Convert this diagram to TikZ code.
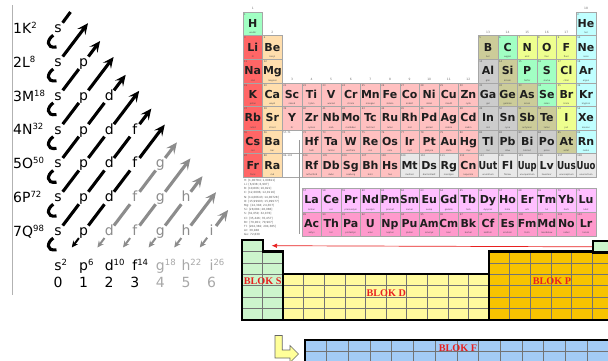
\documentclass[tikz,border=0pt]{standalone}
\usepackage{fontspec}
\setmainfont{DejaVu Sans}
\newfontfamily\serf{Liberation Serif}
\usetikzlibrary{arrows.meta}
\definecolor{cAlk}{HTML}{FF6666}
\definecolor{cAle}{HTML}{FFDEAD}
\definecolor{cTrm}{HTML}{FFC0C0}
\definecolor{cPtm}{HTML}{CCCCCC}
\definecolor{cMtd}{HTML}{CCCC99}
\definecolor{cNm}{HTML}{A1FFC3}
\definecolor{cHal}{HTML}{EEFF8F}
\definecolor{cNob}{HTML}{C0FFFF}
\definecolor{cUnk}{HTML}{E8E8E8}
\definecolor{cLan}{HTML}{FFBFFF}
\definecolor{cAct}{HTML}{FF99CC}
\definecolor{bS}{HTML}{CCF5CC}
\definecolor{bD}{HTML}{FFFA9E}
\definecolor{bP}{HTML}{F7C300}
\definecolor{bF}{HTML}{A3CBF5}
\definecolor{orbgray}{HTML}{8C8C8C}
\definecolor{lblgray}{HTML}{A8A8A8}
\definecolor{blokred}{HTML}{E82020}
\definecolor{yelarrow}{HTML}{FFFF99}
\newcommand\supx[1]{\raisebox{5pt}{\fontsize{8.5}{8.5}\selectfont #1}}
\newcommand\fitsym[1]{\setbox0=\hbox{#1}\ifdim\wd0>18.8pt\pgfmathsetmacro\rat{18.8/\the\wd0}\scalebox{\rat}[1]{\box0}\else\box0\fi}
\tikzset{
 cell/.style={draw=black!35, line width=0.3pt},
 elsym/.style={font=\fontsize{11}{11}\selectfont\bfseries, inner sep=0pt, anchor=base, text=black!88},
 elnum/.style={font=\fontsize{2.4}{2.4}\selectfont, inner sep=0pt, anchor=base west, text=black!70},
 elname/.style={font=\fontsize{2.2}{2.2}\selectfont, inner sep=0pt, anchor=base, text=black!70},
 grp/.style={font=\fontsize{3}{3}\selectfont, inner sep=0pt, text=black!55},
 orb/.style={font=\fontsize{14}{14}\selectfont, text height=7.5pt, text depth=0pt, inner sep=2.3pt},
 shl/.style={font=\fontsize{14}{14}\selectfont, inner sep=0pt, anchor=base west},
 diag/.style={line width=3.1pt},
 fletch/.tip={Stealth[length=11pt,width=10pt,inset=4.5pt]},
 btip/.tip={Stealth[length=6.5pt,width=6pt]},
 blocklbl/.style={font=\serf\bfseries\fontsize{10.2}{10.2}\selectfont, text=blokred, inner sep=0pt},
 gridl/.style={draw=black!55, line width=0.7pt},
 outl/.style={draw=black, line width=2.2pt, line join=miter},
}
\begin{document}
\begin{tikzpicture}[x=1pt,y=-1pt]
\useasboundingbox (0,0) rectangle (608,360);
\fill[white] (0,0) rectangle (608,360);
\clip (0,0) rectangle (608,360);

% ================= periodic table =================
\foreach \ec/\er/\es/\ez/\en/\ek in {
1/1/H/1/wodór/cNm, 18/1/He/2/hel/cNob,
1/2/Li/3/lit/cAlk, 2/2/Be/4/beryl/cAle, 13/2/B/5/bor/cMtd, 14/2/C/6/węgiel/cNm, 15/2/N/7/azot/cHal, 16/2/O/8/tlen/cHal, 17/2/F/9/fluor/cHal, 18/2/Ne/10/neon/cNob,
1/3/Na/11/sód/cAlk, 2/3/Mg/12/magnez/cAle, 13/3/Al/13/glin/cPtm, 14/3/Si/14/krzem/cMtd, 15/3/P/15/fosfor/cNm, 16/3/S/16/siarka/cNm, 17/3/Cl/17/chlor/cHal, 18/3/Ar/18/argon/cNob,
1/4/K/19/potas/cAlk, 2/4/Ca/20/wapń/cAle, 3/4/Sc/21/skand/cTrm, 4/4/Ti/22/tytan/cTrm, 5/4/V/23/wanad/cTrm, 6/4/Cr/24/chrom/cTrm, 7/4/Mn/25/mangan/cTrm, 8/4/Fe/26/żelazo/cTrm, 9/4/Co/27/kobalt/cTrm, 10/4/Ni/28/nikiel/cTrm, 11/4/Cu/29/miedź/cTrm, 12/4/Zn/30/cynk/cTrm, 13/4/Ga/31/gal/cPtm, 14/4/Ge/32/german/cMtd, 15/4/As/33/arsen/cMtd, 16/4/Se/34/selen/cNm, 17/4/Br/35/brom/cHal, 18/4/Kr/36/krypton/cNob,
1/5/Rb/37/rubid/cAlk, 2/5/Sr/38/stront/cAle, 3/5/Y/39/itr/cTrm, 4/5/Zr/40/cyrkon/cTrm, 5/5/Nb/41/niob/cTrm, 6/5/Mo/42/molibden/cTrm, 7/5/Tc/43/technet/cTrm, 8/5/Ru/44/ruten/cTrm, 9/5/Rh/45/rod/cTrm, 10/5/Pd/46/pallad/cTrm, 11/5/Ag/47/srebro/cTrm, 12/5/Cd/48/kadm/cTrm, 13/5/In/49/ind/cPtm, 14/5/Sn/50/cyna/cPtm, 15/5/Sb/51/antymon/cMtd, 16/5/Te/52/tellur/cMtd, 17/5/I/53/jod/cHal, 18/5/Xe/54/ksenon/cNob,
1/6/Cs/55/cez/cAlk, 2/6/Ba/56/bar/cAle, 4/6/Hf/72/hafn/cTrm, 5/6/Ta/73/tantal/cTrm, 6/6/W/74/wolfram/cTrm, 7/6/Re/75/ren/cTrm, 8/6/Os/76/osm/cTrm, 9/6/Ir/77/iryd/cTrm, 10/6/Pt/78/platyna/cTrm, 11/6/Au/79/złoto/cTrm, 12/6/Hg/80/rtęć/cTrm, 13/6/Tl/81/tal/cPtm, 14/6/Pb/82/ołów/cPtm, 15/6/Bi/83/bizmut/cPtm, 16/6/Po/84/polon/cPtm, 17/6/At/85/astat/cMtd, 18/6/Rn/86/radon/cNob,
1/7/Fr/87/frans/cAlk, 2/7/Ra/88/rad/cAle, 4/7/Rf/104/rutherford/cTrm, 5/7/Db/105/dubn/cTrm, 6/7/Sg/106/seaborg/cTrm, 7/7/Bh/107/bohr/cTrm, 8/7/Hs/108/has/cTrm, 9/7/Mt/109/meitner/cUnk, 10/7/Ds/110/darmsztadt/cUnk, 11/7/Rg/111/roentgen/cUnk, 12/7/Cn/112/kopernik/cTrm, 13/7/Uut/113/ununtrium/cUnk, 14/7/Fl/114/flerow/cUnk, 15/7/Uup/115/ununpentium/cUnk, 16/7/Lv/116/liwermor/cUnk, 17/7/Uus/117/ununseptium/cUnk, 18/7/Uuo/118/ununoctium/cUnk,
4/8/La/57/lantan/cLan, 5/8/Ce/58/cer/cLan, 6/8/Pr/59/prazeodym/cLan, 7/8/Nd/60/neodym/cLan, 8/8/Pm/61/promet/cLan, 9/8/Sm/62/samar/cLan, 10/8/Eu/63/europ/cLan, 11/8/Gd/64/gadolin/cLan, 12/8/Tb/65/terb/cLan, 13/8/Dy/66/dysproz/cLan, 14/8/Ho/67/holm/cLan, 15/8/Er/68/erb/cLan, 16/8/Tm/69/tul/cLan, 17/8/Yb/70/iterb/cLan, 18/8/Lu/71/lutet/cLan,
4/9/Ac/89/aktyn/cAct, 5/9/Th/90/tor/cAct, 6/9/Pa/91/protaktyn/cAct, 7/9/U/92/uran/cAct, 8/9/Np/93/neptun/cAct, 9/9/Pu/94/pluton/cAct, 10/9/Am/95/ameryk/cAct, 11/9/Cm/96/kiur/cAct, 12/9/Bk/97/berkel/cAct, 13/9/Cf/98/kaliforn/cAct, 14/9/Es/99/einstein/cAct, 15/9/Fm/100/ferm/cAct, 16/9/Md/101/mendelew/cAct, 17/9/No/102/nobel/cAct, 18/9/Lr/103/lorens/cAct}{
  \pgfmathsetmacro\tx{243+19.6*(\ec-1)}
  \pgfmathsetmacro\ty{\er<8 ? 12+23.6*(\er-1) : 188.5+23.6*(\er-8)}
  \path[cell, fill=\ek] (\tx,\ty) rectangle ++(19.6,23.6);
  \node[elsym] (e\ez) at ({\tx+9.8},{\ty+15.4}) {\fitsym{\es}};
  \node[elnum] (z\ez) at ({\tx+1},{\ty+3.2}) {\ez};
  \node[elname] (n\ez) at ({\tx+9.8},{\ty+21.8}) {\en};
}
% placeholders for La/Ac series
\path[cell, fill=white] (282.2,130) rectangle ++(19.6,23.6);
\path[cell, fill=white] (282.2,153.6) rectangle ++(19.6,23.6);
\node[elnum] (ph6) at (283.2,133.2) {57–71};
\node[elnum] (ph7) at (283.2,156.8) {89–103};
\coordinate (lk1) at (299.5,140);
\coordinate (lk2) at (299.5,234);
\draw[black!40, line width=0.4pt] (lk1) -- (lk2);
% group numbers
\foreach \g/\gr in {1/1,2/2,3/4,4/4,5/4,6/4,7/4,8/4,9/4,10/4,11/4,12/4,13/2,14/2,15/2,16/2,17/2,18/1}{
  \node[grp] (g\g) at ({243+19.6*(\g-1)+9.8},{12+23.6*(\gr-1)-3.2}) {\g};
}
% legend of weight intervals
\node[anchor=north west, align=left, inner sep=0pt, text=black!65,
      font=\fontsize{2.8}{4.2}\selectfont] (legend) at (244,179) {
H: [1,00784; 1,00811]\\ Li: [6,938; 6,997]\\ B: [10,806; 10,821]\\
C: [12,0096; 12,0116]\\ N: [14,00643; 14,00728]\\ O: [15,99903; 15,99977]\\
Mg: [24,304; 24,307]\\ Si: [28,084; 28,086]\\ S: [32,059; 32,076]\\
Cl: [35,446; 35,457]\\ Br: [79,901; 79,907]\\ Tl: [204,382; 204,385]\\
Ar: 39,948\\ Ge: 72,630};

% ================= block diagram =================
% s block
\path[fill=bS] (242,240) -- (262.6,240) -- (262.6,251.43) -- (283.2,251.43) -- (283.2,320) -- (242,320) -- cycle;
\foreach \j in {1,...,6}{ \draw[gridl] (242,{240+11.43*\j}) -- (283.2,{240+11.43*\j}); }
\draw[gridl] (262.6,251.43) -- (262.6,320);
\draw[outl] (242,240) -- (262.6,240) -- (262.6,251.43) -- (283.2,251.43) -- (283.2,320) -- (242,320) -- cycle;
% d block
\path[fill=bD] (283.2,274.29) rectangle (489.2,320);
\foreach \i in {1,...,9}{ \draw[gridl] ({283.2+20.6*\i},274.29) -- ({283.2+20.6*\i},320); }
\foreach \j in {1,2,3}{ \draw[gridl] (283.2,{274.29+11.43*\j}) -- (489.2,{274.29+11.43*\j}); }
\draw[outl] (283.2,274.29) rectangle (489.2,320);
% p block
\path[fill=bP] (489.2,251.43) rectangle (612.8,320);
\foreach \i in {1,...,5}{ \draw[gridl] ({489.2+20.6*\i},251.43) -- ({489.2+20.6*\i},320); }
\foreach \j in {1,...,5}{ \draw[gridl] (489.2,{251.43+11.43*\j}) -- (612.8,{251.43+11.43*\j}); }
\draw[outl] (489.2,251.43) rectangle (612.8,320);
% He cell
\node[outl, fill=bS, minimum width=20.6pt, minimum height=11.43pt, inner sep=0pt, anchor=north west] (bHe) at (592.2,240) {};
\coordinate (raEnd) at (271.5,245.7);
\draw[blokred, line width=0.7pt, -{Latex[length=5.5pt,width=4.5pt]}] (bHe.west) -- (raEnd);
% f block
\path[fill=bF] (305,340) rectangle (640,380);
\foreach \i in {1,...,14}{ \draw[gridl] ({305+21.7*\i},340) -- ({305+21.7*\i},380); }
\draw[gridl] (305,351.43) -- (640,351.43);
\draw[outl] (640,340) -- (305,340) -- (305,380);
% labels
\node[blocklbl] (lblS) at (262.6,281) {BLOK S};
\node[blocklbl] (lblD) at (386.2,293) {BLOK D};
\node[blocklbl] (lblP) at (552,281) {BLOK P};
\node[blocklbl] (lblF) at (458,348) {BLOK F};
% yellow L arrow
\draw[fill=yelarrow, draw=black!60, line width=0.6pt, line join=miter]
  (275,335.5) -- (282.2,335.5) -- (282.2,350) -- (290,350) -- (290,345.5)
  -- (298.5,354) -- (290,362.5) -- (290,358) -- (275,358) -- cycle;

% ================= Madelung diagram =================
\draw[black!30, line width=0.8pt] (12,5) -- (12,295);
\foreach \n/\lab/\sp in {1/K/2,2/L/8,3/M/18,4/N/32,5/O/50,6/P/72,7/Q/98}{
  \node[shl] (sh\n) at (13,{29+33.8*(\n-1)+4.5}) {\n\lab\supx{\sp}};
}
\foreach \n in {1,...,7}{
  \foreach \q/\ch in {0/s,1/p,2/d,3/f,4/g,5/h,6/i}{
    \ifnum\q<\n
      \pgfmathtruncatemacro\kk{\n+\q}
      \ifnum\kk<9 \def\col{black}\else\def\col{orbgray}\fi
      \node[orb, text=\col] (L\n\q) at ({58+25.6*\q},{29+33.8*(\n-1)}) {\ch};
    \fi
  }
}
% segments between letters
\foreach \n in {1,...,6}{
  \foreach \q in {1,...,5}{
    \ifnum\q<\n
      \pgfmathtruncatemacro\nn{\n+1}
      \pgfmathtruncatemacro\qq{\q-1}
      \pgfmathtruncatemacro\kk{\n+\q}
      \ifnum\kk<9 \def\col{black}\else\def\col{orbgray}\fi
      \draw[diag, \col] (L\n\q) -- (L\nn\qq);
    \fi
  }
}
% tops
\coordinate (T1) at (70.5,12);
\draw[diag] (T1) -- (L10);
\foreach \kk in {2,...,13}{
  \ifodd\kk
    \pgfmathtruncatemacro\na{(\kk+1)/2}
    \pgfmathtruncatemacro\qa{\na-1}
    \def\ox{16.5}\def\oy{-21.8}
  \else
    \pgfmathtruncatemacro\na{\kk/2+1}
    \pgfmathtruncatemacro\qa{\kk/2-1}
    \def\ox{30}\def\oy{-39.6}
  \fi
  \ifnum\kk<9 \def\col{black}\else\def\col{orbgray}\fi
  \coordinate (T\kk) at ({58+25.6*\qa+\ox},{29+33.8*(\na-1)+\oy});
  \draw[diag, \col, {fletch}-] (T\kk) -- (L\na\qa);
}
% hooks
\foreach \kk in {1,...,7}{
  \pgfmathsetmacro\yy{29+33.8*(\kk-1)}
  \draw[diag] (L\kk0.233) .. controls (47,{\yy+10.5}) and (45.5,{\yy+19.5}) .. (56.5,{\yy+18});
}
% bottom arrow heads
\foreach \q in {1,...,6}{
  \ifnum\q<2 \def\col{black}\else\def\col{orbgray}\fi
  \coordinate (B\q) at ({58+25.6*\q-11.8},247.5);
  \draw[line width=2pt, \col, -{btip}] (L7\q) -- (B\q);
}
% bottom labels
\foreach \q/\ch/\sp/\col in {0/s/2/black,1/p/6/black,2/d/10/black,3/f/14/black,4/g/18/lblgray,5/h/22/lblgray,6/i/26/lblgray}{
  \node[orb, text=\col] (Q\q) at ({58+25.6*\q},266.5) {\ch\rlap{\supx{\sp}}};
  \node[font=\fontsize{14}{14}\selectfont, inner sep=0pt, anchor=base, text=\col] (D\q) at ({58+25.6*\q},287) {\q};
}
\end{tikzpicture}
\end{document}
